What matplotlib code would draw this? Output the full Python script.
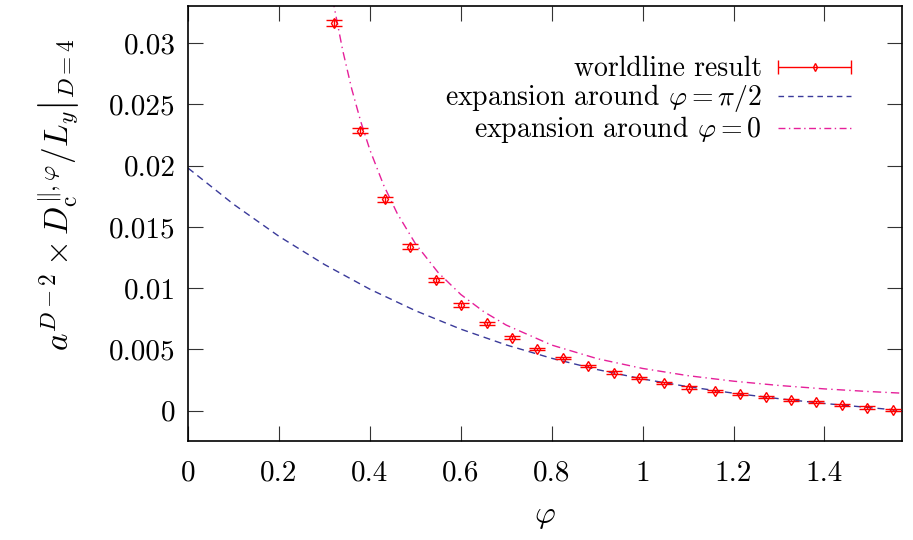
import numpy as np
import matplotlib
matplotlib.use("Agg")
import matplotlib.pyplot as plt
from matplotlib.legend_handler import HandlerErrorbar

plt.rcParams['font.family'] = 'cmr10'
plt.rcParams['mathtext.fontset'] = 'cm'
plt.rcParams['axes.unicode_minus'] = False
plt.rcParams['axes.formatter.use_mathtext'] = True

# worldline data
phi = [0.322, 0.378, 0.434, 0.489, 0.545, 0.601, 0.657, 0.713, 0.768, 0.824,
       0.880, 0.936, 0.992, 1.047, 1.103, 1.159, 1.215, 1.271, 1.326, 1.382,
       1.438, 1.494, 1.550]
dc = [0.03166, 0.02286, 0.01726, 0.01339, 0.01067, 0.00863, 0.00714, 0.00596,
      0.00504, 0.00428, 0.00365, 0.00310, 0.00264, 0.00223, 0.00188, 0.00158,
      0.00134, 0.00112, 0.00087, 0.00068, 0.00047, 0.00025, 0.00006]
dc_err = [0.00025, 0.00022, 0.0002, 0.00018, 0.00016, 0.00014, 0.00013, 0.00012,
          0.00011, 0.0001, 0.0001, 0.0001, 0.0001, 0.0001, 0.0001, 0.0001,
          0.0001, 0.0001, 0.0001, 0.0001, 0.0001, 0.0001, 0.0001]

# expansion around phi = pi/2
phi_half = [0.0, 0.1, 0.2, 0.3, 0.4, 0.5, 0.6, 0.7, 0.8, 0.9, 1.0, 1.1, 1.2,
            1.3, 1.4, 1.5, 1.5708]
exp_half = [0.0198, 0.01685, 0.01423, 0.01193, 0.00991, 0.00816, 0.00665,
            0.00536, 0.00427, 0.00335, 0.00258, 0.00195, 0.00142, 0.00097,
            0.00058, 0.00024, 0.0]

# expansion around phi = 0
phi_zero = [0.30, 0.32, 0.34, 0.36, 0.38, 0.40, 0.43, 0.46, 0.50, 0.55, 0.60,
            0.65, 0.70, 0.80, 0.90, 1.00, 1.10, 1.20, 1.30, 1.40, 1.50, 1.5708]
exp_zero = [0.03782, 0.03324, 0.02945, 0.02627, 0.02359, 0.02129, 0.01843,
            0.01611, 0.01364, 0.01128, 0.00948, 0.00809, 0.00698, 0.00535,
            0.00424, 0.00344, 0.00285, 0.00240, 0.00205, 0.00177, 0.00155,
            0.00142]

xticks = [0, 0.2, 0.4, 0.6, 0.8, 1.0, 1.2, 1.4]
xticklabels = ['0', '0.2', '0.4', '0.6', '0.8', '1', '1.2', '1.4']
yticks = [0, 0.005, 0.01, 0.015, 0.02, 0.025, 0.03]
yticklabels = ['0', '0.005', '0.01', '0.015', '0.02', '0.025', '0.03']

RED = '#ff0000'
BLUE = '#3a3a9a'
PINK = '#e6209a'

fig = plt.figure(figsize=(9.13, 5.40), dpi=100)
ax = fig.add_axes([0.206, 0.183, 0.782, 0.805])

ax.plot(phi_half, exp_half, color=BLUE, lw=1.0, dashes=(5, 3.5), zorder=2)
ax.plot(phi_zero, exp_zero, color=PINK, lw=1.0, dashes=(6, 3, 1, 3), zorder=2)
ax.errorbar(phi, dc, yerr=dc_err, fmt='d', color=RED, mfc='none', mec=RED,
            ms=5, mew=1.0, elinewidth=1.0, capsize=5.8, capthick=1.0, zorder=3)

# legend proxies
h_data = ax.errorbar([np.nan], [np.nan], xerr=[[1]], fmt='d', color=RED, mfc='none',
                     mec=RED, ms=4, mew=1.0, elinewidth=1.0, capsize=5, capthick=1.0,
                     label='worldline result')
h_half, = ax.plot([np.nan], [np.nan], color=BLUE, lw=1.0, dashes=(4, 3),
                  label=r'expansion around $\varphi=\pi/2$')
h_zero, = ax.plot([np.nan], [np.nan], color=PINK, lw=1.0, dashes=(5, 2.5, 1, 2.5),
                  label=r'expansion around $\varphi=0$')
HL = 2.6
leg = ax.legend(handles=[h_data, h_half, h_zero], loc='upper right',
                bbox_to_anchor=(0.928, 0.886), frameon=False, markerfirst=False,
                fontsize=20, handlelength=HL, handletextpad=0.6,
                labelspacing=0.0, borderaxespad=0.0, borderpad=0.0,
                handler_map={type(h_data): HandlerErrorbar(xerr_size=HL / 2)})

ax.set_xlim(0, np.pi / 2)
ax.set_ylim(-0.0025, 0.033)
ax.set_xticks(xticks)
ax.set_xticklabels(xticklabels)
ax.set_yticks(yticks)
ax.set_yticklabels(yticklabels)
ax.tick_params(direction='in', length=11, width=0.8, top=True, right=True,
               labelsize=21, pad=14, color='#333333')
ax.tick_params(axis='y', pad=9)
for s in ax.spines.values():
    s.set_linewidth(1.2)

ax.set_xlabel(r'$\varphi$', fontsize=23, labelpad=12)
ax.set_ylabel(r'$\left. a^{D-2}\times D_{\mathrm{c}}^{\|,\varphi}/L_y\right|_{D=4}$',
              fontsize=24)
ax.yaxis.set_label_coords(-0.148, 0.566)

fig.savefig('out.png', dpi=100)
